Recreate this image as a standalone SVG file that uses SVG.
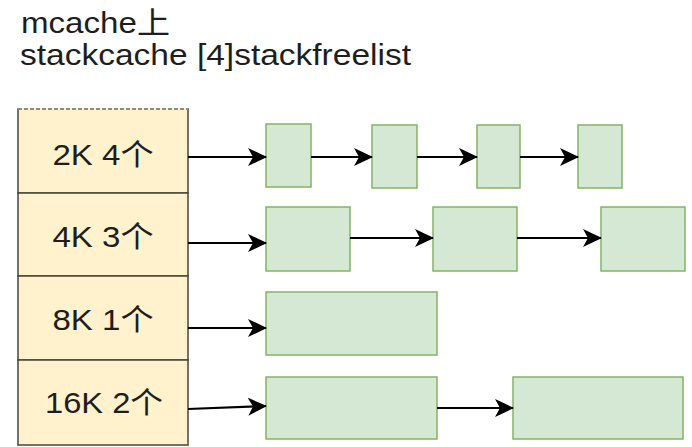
<svg xmlns="http://www.w3.org/2000/svg" width="692" height="447" viewBox="0 0 692 447">
  <defs>
    <marker id="arr" markerUnits="userSpaceOnUse" markerWidth="20" markerHeight="18" refX="18" refY="9" orient="auto" viewBox="0 0 20 18">
      <path d="M0,0 L19,9 L0,18 L5,9 Z" fill="#000"/>
    </marker>
    <style>
      .t { font-family: "Liberation Sans", Arial, "Noto Sans CJK SC", sans-serif; fill: #1e1e1e; }
      .title { font-size: 30px; }
      .lab { font-size: 30px; text-anchor: middle; }
      .cell { fill: #fff2cc; stroke: #46463c; stroke-width: 1.5; }
      .blk { fill: #d5e8d4; stroke: #82b366; stroke-width: 1.5; }
      .conn path { fill: none; stroke: #000; stroke-width: 2.2; marker-end: url(#arr); }
    </style>
  </defs>
  <rect width="692" height="447" fill="#fff"/>

  <g id="title">
    <text class="t title" x="21" y="33" textLength="149" lengthAdjust="spacingAndGlyphs">mcache上</text>
    <text class="t title" x="20" y="65" textLength="391" lengthAdjust="spacingAndGlyphs">stackcache [4]stackfreelist</text>
  </g>

  <g id="stackcache">
    <g id="cell-2k">
      <rect class="cell" x="18" y="109" width="170" height="84"/>
      <line x1="18" y1="109" x2="188" y2="109" stroke="#fff2cc" stroke-width="2"/>
      <line x1="18" y1="109" x2="188" y2="109" stroke="#6b6b60" stroke-width="1.5" stroke-dasharray="4 2"/>
      <text class="t lab" x="103" y="165" textLength="101" lengthAdjust="spacingAndGlyphs">2K 4个</text>
    </g>
    <g id="cell-4k">
      <rect class="cell" x="18" y="193" width="170" height="83"/>
      <text class="t lab" x="103" y="247" textLength="101" lengthAdjust="spacingAndGlyphs">4K 3个</text>
    </g>
    <g id="cell-8k">
      <rect class="cell" x="18" y="276" width="170" height="84"/>
      <text class="t lab" x="103" y="330" textLength="101" lengthAdjust="spacingAndGlyphs">8K 1个</text>
    </g>
    <g id="cell-16k">
      <rect class="cell" x="18" y="360" width="170" height="85"/>
      <text class="t lab" x="104" y="413" textLength="118" lengthAdjust="spacingAndGlyphs">16K 2个</text>
    </g>
  </g>

  <g id="row-2k">
    <rect id="b2k-1" class="blk" x="266" y="124" width="45" height="63"/>
    <rect id="b2k-2" class="blk" x="372" y="125" width="45" height="63"/>
    <rect id="b2k-3" class="blk" x="477" y="125" width="43" height="63"/>
    <rect id="b2k-4" class="blk" x="578" y="125" width="44" height="63"/>
  </g>
  <g id="row-4k">
    <rect id="b4k-1" class="blk" x="266" y="207" width="84" height="64"/>
    <rect id="b4k-2" class="blk" x="433" y="207" width="84" height="64"/>
    <rect id="b4k-3" class="blk" x="601" y="207" width="84" height="64"/>
  </g>
  <g id="row-8k">
    <rect id="b8k-1" class="blk" x="266" y="292" width="171" height="63"/>
  </g>
  <g id="row-16k">
    <rect id="b16k-1" class="blk" x="266" y="377" width="171" height="62"/>
    <rect id="b16k-2" class="blk" x="513" y="377" width="170" height="62"/>
  </g>

  <g id="connectors" class="conn">
    <path d="M188,157 L266,157"/>
    <path d="M311,157 L372,157"/>
    <path d="M417,157 L477,157"/>
    <path d="M520,157 L578,157"/>
    <path d="M188,243 L266,243"/>
    <path d="M350,238 L433,238"/>
    <path d="M517,238 L601,238"/>
    <path d="M188,328 L266,328"/>
    <path d="M188,409 L266,406"/>
    <path d="M437,408 L513,408"/>
  </g>
</svg>
